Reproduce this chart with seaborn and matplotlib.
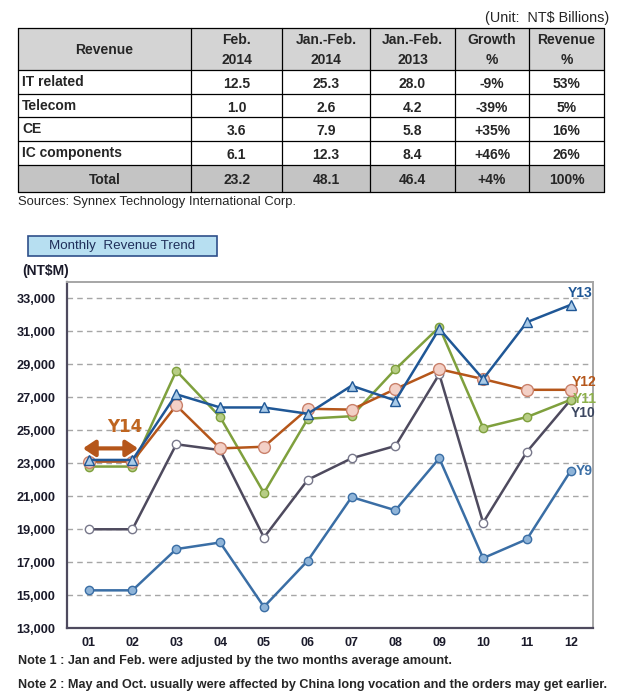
import matplotlib
matplotlib.use("Agg")
import matplotlib.pyplot as plt
import seaborn as sns
import pandas as pd

# Datos de la tabla (NT$ Billions)
table_header = ["Revenue", "Feb.\n2014", "Jan.-Feb.\n2014", "Jan.-Feb.\n2013", "Growth\n%", "Revenue\n%"]
table_rows = [
    ["IT related", "12.5", "25.3", "28.0", "-9%", "53%"],
    ["Telecom", "1.0", "2.6", "4.2", "-39%", "5%"],
    ["CE", "3.6", "7.9", "5.8", "+35%", "16%"],
    ["IC components", "6.1", "12.3", "8.4", "+46%", "26%"],
]
table_total = ["Total", "23.2", "48.1", "46.4", "+4%", "100%"]

# Datos del gráfico mensual (NT$M)
months = list(range(1, 13))
month_labels = ["01", "02", "03", "04", "05", "06", "07", "08", "09", "10", "11", "12"]
y9 = [15300, 15300, 17800, 18200, 14300, 17100, 20950, 20150, 23300, 17250, 18400, 22550]
y10 = [19000, 19000, 24150, 23800, 18500, 22000, 23300, 24050, 28400, 19400, 23700, 26850]
y11 = [22800, 22800, 28600, 25800, 21200, 25700, 25850, 28700, 31250, 25150, 25800, 26850]
y12 = [23100, 23100, 26500, 23900, 24000, 26300, 26250, 27500, 28700, 28100, 27450, 27450]
y13 = [23200, 23200, 27180, 26380, 26380, 26000, 27700, 26800, 31150, 28100, 31550, 32600]
y14_value = 23900

sns.set_theme(style="white")
plt.rcParams["font.family"] = ["Liberation Sans", "DejaVu Sans"]

fig = plt.figure(figsize=(6.18, 7.0), dpi=100)

# Capa en coordenadas de pixel para la tabla y los textos
bg = fig.add_axes([0, 0, 1, 1], zorder=0)
bg.set_xlim(0, 618)
bg.set_ylim(700, 0)
bg.axis("off")
bg.patch.set_alpha(0)

col_x = [18, 191, 282, 370, 455, 529, 604]
row_y = [28, 70, 94, 117, 141, 165, 192]

bg.add_patch(plt.Rectangle((col_x[0], row_y[0]), col_x[-1] - col_x[0], row_y[1] - row_y[0],
                           facecolor="#d4d4d4", edgecolor="none"))
bg.add_patch(plt.Rectangle((col_x[0], row_y[5]), col_x[-1] - col_x[0], row_y[6] - row_y[5],
                           facecolor="#c4c4c4", edgecolor="none"))
for y in row_y:
    bg.plot([col_x[0], col_x[-1]], [y, y], color="black", lw=0.9)
for x in col_x:
    bg.plot([x, x], [row_y[0], row_y[-1]], color="black", lw=0.9)

def centers(i):
    return (col_x[i] + col_x[i + 1]) / 2

for i, txt in enumerate(table_header):
    bg.text(centers(i), (row_y[0] + row_y[1]) / 2 + 1, txt, ha="center", va="center",
            fontsize=10, fontweight="bold", linespacing=1.5)
for r, row in enumerate(table_rows):
    yc = (row_y[r + 1] + row_y[r + 2]) / 2 + 1
    for i, txt in enumerate(row):
        if i == 0:
            bg.text(col_x[0] + 4, yc - 1, txt, ha="left", va="center", fontsize=10, fontweight="bold")
        else:
            bg.text(centers(i), yc + 1, txt, ha="center", va="center", fontsize=10, fontweight="bold")
for i, txt in enumerate(table_total):
    bg.text(centers(i), (row_y[5] + row_y[6]) / 2 + 1, txt, ha="center", va="center",
            fontsize=10, fontweight="bold")

bg.text(609, 18, "(Unit:  NT$ Billions)", ha="right", va="center", fontsize=10.4)
bg.text(18, 202, "Sources: Synnex Technology International Corp.", ha="left", va="center", fontsize=9.4)

# Caja de título
bg.add_patch(plt.Rectangle((28, 236), 189, 20, facecolor="#b7dff1", edgecolor="#2f4f8a", lw=1.2))
bg.text(122, 246, "Monthly  Revenue Trend", ha="center", va="center", fontsize=9.6, color="#1f2f5a")
bg.text(22, 271, "(NT$M)", ha="left", va="center", fontsize=10, fontweight="bold", color="#1a1a2a")

bg.text(18, 661, "Note 1 : Jan and Feb. were adjusted by the two months average amount.",
        ha="left", va="center", fontsize=9.1, fontweight="bold")
bg.text(18, 685, "Note 2 : May and Oct. usually were affected by China long vocation and the orders may get earlier.",
        ha="left", va="center", fontsize=9.1, fontweight="bold")

# Gráfico de líneas
ax = fig.add_axes([66.7 / 618, 1 - 628.3 / 700, 526 / 618, 346.6 / 700], zorder=1)
ax.patch.set_alpha(0)

series = [
    ("Y9", y9, "#3a6ea5", "o", "#8fb4d8", "#3a6ea5", 6),
    ("Y10", y10, "#4e4a5e", "o", "white", "#77778a", 6),
    ("Y11", y11, "#7fa03d", "o", "#b7cd85", "#7fa03d", 6),
    ("Y12", y12, "#b5561a", "o", "#f3d0c6", "#c9806a", 8.5),
    ("Y13", y13, "#1f5796", "^", "#aacbe8", "#1f5796", 7.5),
]
for name, vals, col, mk, mfc, mec, ms in series:
    df = pd.DataFrame({"month": months, "value": vals})
    sns.lineplot(data=df, x="month", y="value", ax=ax, color=col, linewidth=1.8,
                 marker=mk, markersize=ms, markerfacecolor=mfc, markeredgecolor=mec,
                 markeredgewidth=1.0)

ax.set_xlim(0.5, 12.5)
ax.set_ylim(13000, 34000)
ax.set_xlabel("")
ax.set_ylabel("")
ax.set_yticks(range(13000, 34000, 2000))
ax.set_yticklabels([f"{v:,}" for v in range(13000, 34000, 2000)], fontsize=9.2,
                   fontweight="bold", color="#1a1a2a")
ax.set_xticks(months)
ax.set_xticklabels(month_labels, fontsize=9, fontweight="bold", color="#1a1a2a")
ax.set_xticks([m + 0.5 for m in months[:-1]], minor=True)
ax.tick_params(axis="x", which="major", length=0, pad=6)
ax.tick_params(axis="x", which="minor", length=4, width=1.2, color="#3a3a4a", direction="in")
ax.tick_params(axis="y", length=0, pad=8)
for v in range(15000, 34000, 2000):
    ax.axhline(v, color="#a6a6a6", lw=1, ls=(0, (4, 3)), zorder=0)
ax.spines["left"].set_color("#4e4a5e")
ax.spines["bottom"].set_color("#4e4a5e")
ax.spines["left"].set_linewidth(1.6)
ax.spines["bottom"].set_linewidth(1.6)
ax.spines["top"].set_color("#a6a6a6")
ax.spines["right"].set_color("#a6a6a6")
ax.spines["top"].set_linewidth(1.4)
ax.spines["right"].set_linewidth(1.4)

# Etiquetas de las series
lab = dict(fontsize=10, fontweight="bold", ha="center", clip_on=False)
ax.text(12.22, y13[-1] + 300, "Y13", color="#1f5796", va="bottom", **lab)
ax.text(12.3, y12[-1] + 50, "Y12", color="#b5561a", va="bottom", **lab)
ax.text(12.32, y11[-1] + 50, "Y11", color="#8db04a", va="center", **lab)
ax.text(12.28, y10[-1] - 800, "Y10", color="#3b4660", va="center", **lab)
ax.text(12.3, y9[-1], "Y9", color="#3a6ea5", va="center", **lab)

# Flecha Y14
ax.annotate("", xy=(0.87, y14_value), xytext=(2.13, y14_value),
            arrowprops=dict(arrowstyle="<|-|>,head_length=0.45,head_width=0.3", color="#b5561a",
                            lw=3, mutation_scale=16, shrinkA=0, shrinkB=0))
ax.text(1.83, y14_value + 1300, "Y14", color="#bf6520", fontsize=12, fontweight="bold",
        ha="center", va="center", family="DejaVu Sans")

fig.savefig("out.png", dpi=100)
